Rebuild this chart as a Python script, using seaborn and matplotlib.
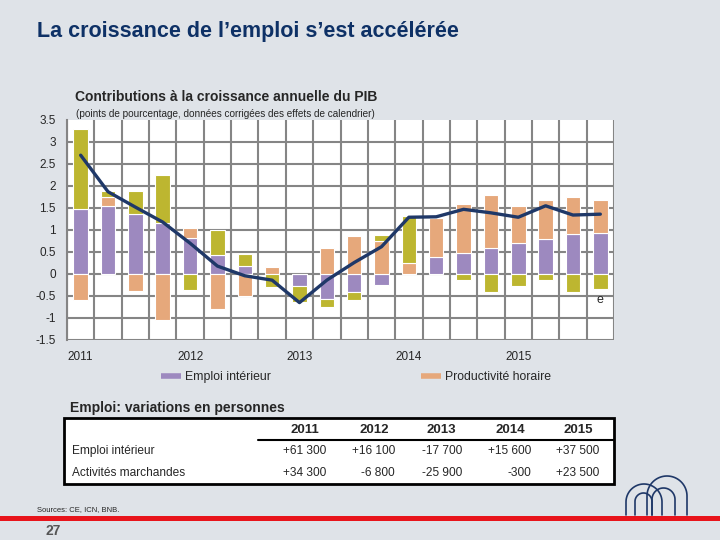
import numpy as np
import matplotlib
matplotlib.use("Agg")
import matplotlib.pyplot as plt
import matplotlib.transforms as mtransforms
from matplotlib.lines import Line2D
from matplotlib.patches import Rectangle, Polygon
import seaborn as sns

# Données : contributions trimestrielles à la croissance annuelle du PIB
quarters = ["2011T1", "2011T2", "2011T3", "2011T4", "2012T1", "2012T2", "2012T3", "2012T4",
            "2013T1", "2013T2", "2013T3", "2013T4", "2014T1", "2014T2", "2014T3", "2014T4",
            "2015T1", "2015T2", "2015T3", "2015T4"]
emploi = [1.47, 1.55, 1.36, 1.17, 0.81, 0.43, 0.19, 0.00, -0.27, -0.57, -0.42, -0.25,
          0.00, 0.39, 0.47, 0.58, 0.70, 0.80, 0.92, 0.94]
productivite = [-0.59, 0.19, -0.38, -1.05, 0.23, -0.80, -0.50, 0.17, 0.00, 0.60, 0.86, 0.75,
                0.26, 0.89, 1.12, 1.21, 0.85, 0.89, 0.82, 0.74]
heures = [1.82, 0.14, 0.53, 1.08, -0.36, 0.57, 0.27, -0.29, -0.36, -0.17, -0.17, 0.14,
          1.05, 0.00, -0.14, -0.42, -0.27, -0.14, -0.42, -0.34]
pib = [2.70, 1.87, 1.52, 1.18, 0.70, 0.18, -0.04, -0.14, -0.65, -0.14, 0.26, 0.62,
       1.29, 1.30, 1.47, 1.39, 1.29, 1.55, 1.34, 1.36]
year_labels = ["2011", "2012", "2013", "2014", "2015"]
y_ticks = [-1.5, -1, -0.5, 0, 0.5, 1, 1.5, 2, 2.5, 3, 3.5]

# Tableau : variations de l'emploi en personnes
table_years = ["2011", "2012", "2013", "2014", "2015"]
row_names = ["Emploi intérieur", "Activités marchandes"]
row_emploi = ["+61 300", "+16 100", "-17 700", "+15 600", "+37 500"]
row_marchand = ["+34 300", "-6 800", "-25 900", "-300", "+23 500"]

BG = "#dfe3e8"
PURPLE = "#9d89bf"
SALMON = "#e6a87b"
OLIVE = "#bdb630"
NAVY = "#1f3868"
GRID = "#858585"

sns.set_style("white")
plt.rcParams["font.family"] = ["Liberation Sans", "DejaVu Sans"]

fig = plt.figure(figsize=(7.2, 5.4), dpi=100, facecolor=BG)
W, H = 720, 540
fx = lambda px: px / W
fy = lambda py: 1 - py / H

ax = fig.add_axes([fx(67), fy(340), fx(614) - fx(67), (340 - 120) / H])
ax.set_facecolor("white")

# empilement : positifs vers le haut, négatifs vers le bas
pos = np.zeros(len(quarters))
neg = np.zeros(len(quarters))
for vals, col in [(emploi, PURPLE), (productivite, SALMON), (heures, OLIVE)]:
    v = np.array(vals)
    bottom = np.where(v >= 0, pos, neg)
    sns.barplot(x=quarters, y=v, order=quarters, bottom=bottom, color=col, width=0.53,
                saturation=1, edgecolor="white", linewidth=0.8, errorbar=None, ax=ax,
                zorder=3)
    pos = pos + np.where(v >= 0, v, 0)
    neg = neg + np.where(v < 0, v, 0)

sns.lineplot(x=np.arange(len(quarters)), y=pib, color=NAVY, linewidth=2.4, ax=ax, zorder=4)

for xv in np.arange(-0.5, len(quarters), 1.0):
    ax.axvline(xv, color=GRID, lw=1.5, zorder=1)
for yv in y_ticks[:-1]:
    ax.axhline(yv, color=GRID, lw=1.5, zorder=1)

ax.set_xlim(-0.5, len(quarters) - 0.5)
ax.set_ylim(-1.5, 3.5)
ax.set_yticks(y_ticks)
ax.set_yticklabels([f"{t:g}" for t in y_ticks], fontsize=8.5)
ax.set_xticks([0, 4, 8, 12, 16])
ax.set_xticklabels(year_labels, fontsize=8.5)
ax.tick_params(axis="y", length=4, color=GRID, width=1.2, pad=4)
ax.tick_params(axis="x", length=0, pad=8)
ax.set_xlabel("")
ax.set_ylabel("")
for s in ["top", "right", "bottom"]:
    ax.spines[s].set_visible(False)
ax.spines["left"].set_color(GRID)
ax.spines["left"].set_linewidth(1.5)
ax.text(19, -0.6, "e", fontsize=9, ha="center", va="center", zorder=5)

# titres
fig.text(fx(37), fy(32), "La croissance de l\u2019emploi s\u2019est accélérée", fontsize=15.5,
         fontweight="bold", color="#0e3166", va="center")
fig.text(fx(75), fy(97), "Contributions à la croissance annuelle du PIB", fontsize=10,
         fontweight="bold", va="center")
fig.text(fx(76), fy(114), "(points de pourcentage, données corrigées des effets de calendrier)",
         fontsize=7.2, va="center")

# légende
handles = [Line2D([], [], color=PURPLE, lw=4, solid_capstyle="butt"),
           Line2D([], [], color=SALMON, lw=4, solid_capstyle="butt")]
fig.legend(handles, ["Emploi intérieur", "Productivité horaire"], ncol=2, frameon=False,
           loc="center left", bbox_to_anchor=(fx(161), fy(377)), fontsize=8.8,
           handlelength=1.6, handletextpad=0.35, columnspacing=12.3, borderpad=0,
           borderaxespad=0)

# tableau
fig.text(fx(70), fy(408), "Emploi: variations en personnes", fontsize=10,
         fontweight="bold", va="center")
fig.add_artist(Rectangle((fx(64), fy(484)), fx(614) - fx(64), (484 - 418) / H,
                         transform=fig.transFigure, facecolor="white", edgecolor="black",
                         lw=2))
fig.add_artist(Line2D([fx(258), fx(614)], [fy(440), fy(440)], color="black", lw=1.5,
                      transform=fig.transFigure))
head_x = [305, 374, 441, 510, 578]
for hx, yr in zip(head_x, table_years):
    fig.text(fx(hx), fy(430), yr, fontsize=9.5, fontweight="bold", ha="center", va="center")
for ry, name, row in [(451, row_names[0], row_emploi), (473, row_names[1], row_marchand)]:
    fig.text(fx(72), fy(ry), name, fontsize=8.6, va="center")
    for hx, val in zip(head_x, row):
        fig.text(fx(hx + 21), fy(ry), val, fontsize=8.6, ha="right", va="center")

fig.text(fx(37), fy(510), "Sources: CE, ICN, BNB.", fontsize=5.5, va="center")
fig.add_artist(Rectangle((0, fy(521)), 1, 5 / H, transform=fig.transFigure,
                         facecolor="#e8141b", edgecolor="none"))
fig.text(fx(45), fy(531), "27", fontsize=10, fontweight="bold", color="#555555", va="center")

# logo
pxt = mtransforms.Affine2D().scale(1 / W, -1 / H).translate(0, 1) + fig.transFigure


def arch(cx, r, ytop, ybot):
    th = np.linspace(np.pi, 0, 40)
    xs = np.concatenate([[cx - r], cx + r * np.cos(th), [cx + r]])
    ys = np.concatenate([[ybot], ytop + r - r * np.sin(th), [ybot]])
    return xs, ys


for cx, r, yt, fill in [(667, 20, 476, False), (663.5, 11.5, 488, False),
                        (644, 18, 484, True), (643.5, 8.5, 493, False)]:
    xs, ys = arch(cx, r, yt, 515)
    if fill:
        fig.add_artist(Polygon(np.column_stack([xs, ys]), closed=True, facecolor=BG,
                               edgecolor="none", transform=pxt))
    fig.add_artist(Line2D(xs, ys, color=NAVY, lw=1.2, transform=pxt))

fig.savefig("out.png", dpi=100, facecolor=BG)
